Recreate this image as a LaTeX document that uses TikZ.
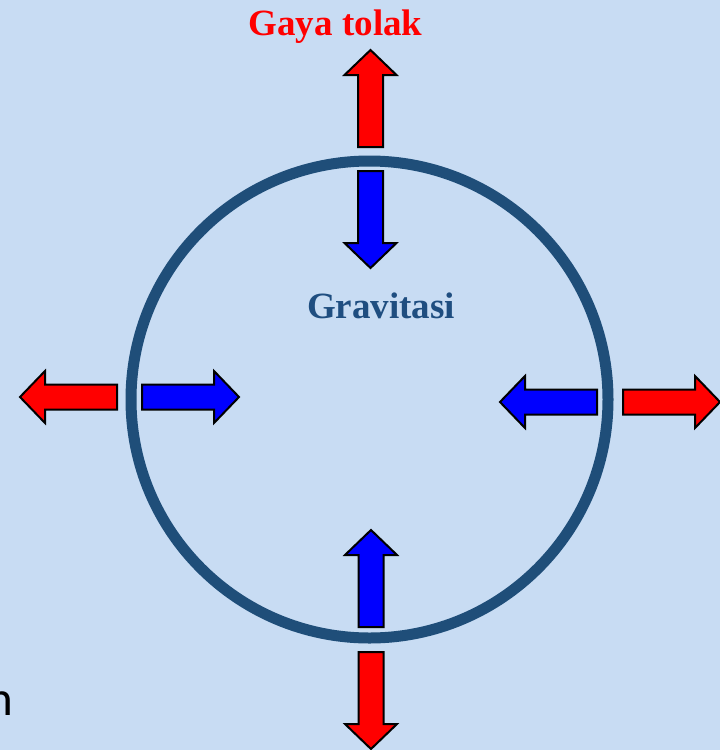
\documentclass[tikz,border=0pt]{standalone}
\usepackage{fontspec}
\newfontfamily\tnrfont{Liberation Serif}
\newfontfamily\carlitofont{Carlito}
\definecolor{bgblue}{RGB}{200,220,243}
\definecolor{ringblue}{RGB}{31,78,121}
\definecolor{txtblue}{RGB}{31,78,128}
\tikzset{
  blockarrow/.pic={
    \filldraw[fill=#1, draw=black, line width=2pt, line join=miter]
      (0,-12.5) -- (72,-12.5) -- (72,-26) -- (97,0) -- (72,26) -- (72,12.5) -- (0,12.5) -- cycle;
  },
  ring/.style={circle, draw=ringblue, line width=11pt, minimum size=477pt, inner sep=0pt},
  lbl/.style={font=\tnrfont\bfseries\fontsize{37}{40}\selectfont, inner sep=0pt, anchor=base}
}
\begin{document}
\begin{tikzpicture}[x=1pt,y=-1pt]
\fill[bgblue] (0,0) rectangle (720,750);
\useasboundingbox (0,0) rectangle (720,750);
\clip (0,0) rectangle (720,750);
\node (c) [ring] at (369.5,399.5) {};
\node (title) [lbl, text=red] at (335.5,35) {Gaya tolak};
\node (grav) [lbl, text=txtblue] at (381,318) {Gravitasi};
\node (n) [font=\carlitofont\fontsize{49}{50}\selectfont, inner sep=0pt, anchor=base east] at (13,715) {n};
% top
\pic (tr) [rotate=90] at (370.5,147) {blockarrow=red};
\pic (tb) [rotate=-90] at (370.5,171) {blockarrow=blue};
% left
\pic (lr) [rotate=180] at (117,397) {blockarrow=red};
\pic (lb) at (142,397) {blockarrow=blue};
% right
\pic (rb) [rotate=180] at (597,402) {blockarrow=blue};
\pic (rr) at (623,402) {blockarrow=red};
% bottom
\pic (bb) [rotate=90] at (371,627) {blockarrow=blue};
\pic (br) [rotate=-90] at (371,652) {blockarrow=red};
\end{tikzpicture}
\end{document}
